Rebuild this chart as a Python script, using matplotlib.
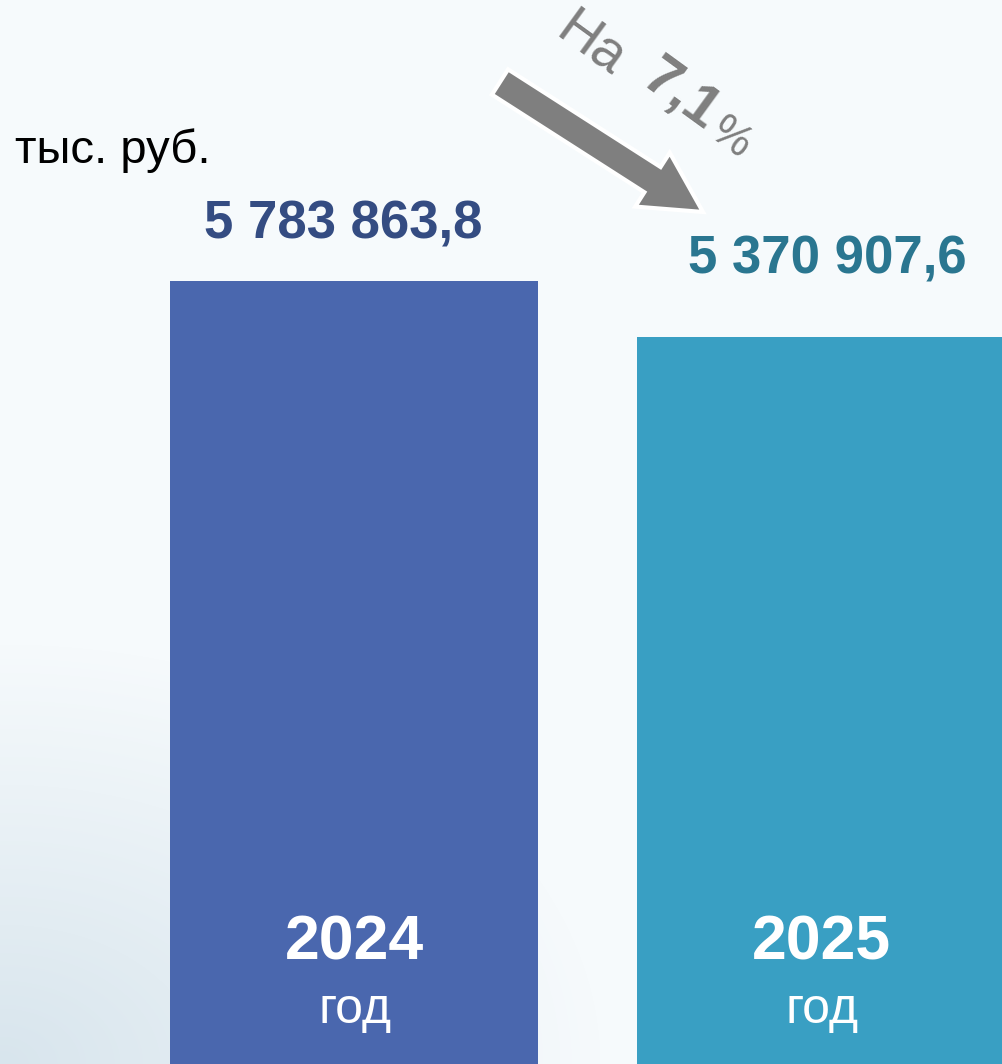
import numpy as np
import matplotlib.pyplot as plt
from matplotlib.patches import FancyArrow

plt.rcParams['font.family'] = ['Liberation Sans', 'DejaVu Sans']

years = ['2024', '2025']
values = [5783863.8, 5370907.6]
value_labels = ['5 783 863,8', '5 370 907,6']
bar_colors = ['#4A67AE', '#399FC3']
label_colors = ['#344C82', '#2A7690']
unit = 'тыс. руб.'
change = ['На', '7,1', '%']

W, H = 1002, 1064
fig = plt.figure(figsize=(W / 100, H / 100), dpi=100)

# background: pale with a soft bluish patch bottom-left
bg = fig.add_axes([0, 0, 1, 1])
yy, xx = np.mgrid[0:H, 0:W]
d = np.sqrt((xx / 600.0) ** 2 + ((H - yy) / 420.0) ** 2)
t = np.clip(1 - d, 0, 1)[..., None]
base = np.array([246, 250, 252]) / 255
patch = np.array([216, 229, 237]) / 255
bg.imshow(base * (1 - t) + patch * t, extent=[0, W, H, 0], aspect='auto')
bg.axis('off')

ax = fig.add_axes([0, 0, 1, 1])
ax.patch.set_alpha(0)
x = np.arange(len(years))
ax.bar(x, values, width=0.788, color=bar_colors)
ax.set_xlim(-0.758, 1.388)
ax.set_ylim(0, 7.86e6)
ax.axis('off')

offsets = [(-11, 43), (6, 63)]
for i in range(len(years)):
    ax.annotate(value_labels[i], xy=(x[i], values[i]), xytext=offsets[i],
                textcoords='offset pixels', ha='center', va='baseline',
                fontsize=38, fontweight='bold', color=label_colors[i])
    ax.annotate(years[i], xy=(x[i], 0), xytext=(1, 104), textcoords='offset pixels',
                ha='center', va='baseline', fontsize=45, fontweight='bold', color='white')
    ax.annotate('год', xy=(x[i], 0), xytext=(1, 41), textcoords='offset pixels',
                ha='center', va='baseline', fontsize=36, color='white')

# overlay in pixel coordinates for unit text and the arrow
ov = fig.add_axes([0, 0, 1, 1])
ov.set_xlim(0, W)
ov.set_ylim(H, 0)
ov.patch.set_alpha(0)
ov.axis('off')

ov.text(15, 163, unit, fontsize=34, color='black', ha='left', va='baseline')

ov.add_patch(FancyArrow(500, 82, 203, 130, width=30, head_width=64, head_length=60,
                        length_includes_head=True, facecolor='#7F7F7F',
                        edgecolor='white', linewidth=3))

ang = -36
ov.text(591, 45, change[0], fontsize=40, color='#7F7F7F', rotation=ang,
        rotation_mode='anchor', ha='center', va='center')
ov.text(680, 95, change[1], fontsize=42, fontweight='bold', color='#7F7F7F',
        rotation=ang, rotation_mode='anchor', ha='center', va='center')
ov.text(730, 138, change[2], fontsize=32, color='#7F7F7F', rotation=ang,
        rotation_mode='anchor', ha='center', va='center')

fig.savefig('out.png', dpi=100)
